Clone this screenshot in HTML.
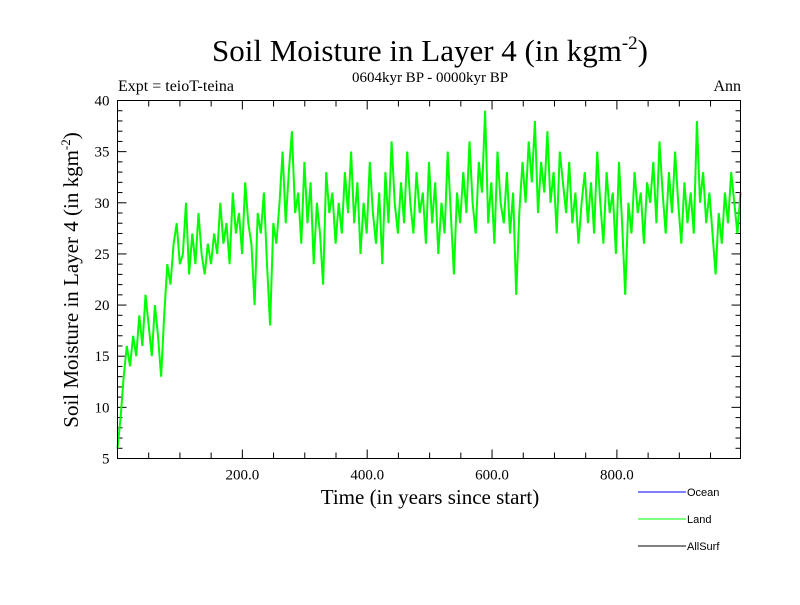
<!DOCTYPE html>
<html><head><meta charset="utf-8"><style>
body{margin:0;background:#fff}
svg text{font-family:"Liberation Serif",serif;fill:#000}
</style></head><body>
<svg width="800" height="600" xmlns="http://www.w3.org/2000/svg">
<rect width="800" height="600" fill="#fff"/>
<text x="430" y="61" font-size="31" text-anchor="middle">Soil Moisture in Layer 4 (in kgm<tspan dy="-12" font-size="19">-2</tspan><tspan dy="12">)</tspan></text>
<text x="430" y="82" font-size="15" text-anchor="middle">0604kyr BP - 0000kyr BP</text>
<text x="118" y="91" font-size="16">Expt = teioT-teina</text>
<text x="741" y="91" font-size="16" text-anchor="end">Ann</text>
<text transform="translate(78,280) rotate(-90)" font-size="21" text-anchor="middle">Soil Moisture in Layer 4 (in kgm<tspan dy="-8" font-size="13">-2</tspan><tspan dy="8">)</tspan></text>
<text x="430" y="504" font-size="21" text-anchor="middle">Time (in years since start)</text>
<g id="ticks"></g>
<polyline id="series" fill="none" stroke="#00ff00" stroke-width="2"/>
<rect x="117.5" y="100.5" width="623" height="358" fill="none" stroke="#000" stroke-width="1"/>
<g>
<line x1="638" y1="492" x2="686" y2="492" stroke="#0000ff"/>
<text x="687" y="496" style="font-family:'Liberation Sans',sans-serif" font-size="11">Ocean</text>
<line x1="638" y1="519" x2="686" y2="519" stroke="#00ff00"/>
<text x="687" y="523" style="font-family:'Liberation Sans',sans-serif" font-size="11">Land</text>
<line x1="638" y1="546" x2="686" y2="546" stroke="#000"/>
<text x="687" y="550" style="font-family:'Liberation Sans',sans-serif" font-size="11">AllSurf</text>
</g>
</svg>
<script>
const values=[6,9,13,16,14,17,15,19,16,21,18,15,20,17,13,19,
24,22,26,28,24,25,30,23,27,24,29,25,23,26,24,
27,25,30,26,28,24,31,27,29,25,32,28,26,20,29,27,31,24,18,28,
26,30,35,28,33,37,29,31,26,34,28,32,24,30,27,22,33,29,31,26,
30,27,33,29,35,28,32,25,30,27,34,29,26,31,24,33,28,36,30,27,
32,28,35,30,27,33,29,31,26,34,28,32,25,30,27,35,29,23,31,28,
33,29,36,30,27,34,31,39,28,32,26,35,30,28,33,27,31,21,29,34,
30,36,32,38,29,34,31,37,30,33,27,35,32,29,34,28,31,26,30,33,
28,32,27,35,30,26,33,29,31,25,34,28,21,30,27,33,29,31,26,32,
30,34,28,36,31,27,33,29,35,30,26,32,28,31,27,38,30,33,28,31,
27,23,29,26,31,28,33,30,27,31];
const xTicks=[200,400,600,800];
const xTickLabels=["200.0","400.0","600.0","800.0"];
const yTicks=[5,10,15,20,25,30,35,40];
const xMin=0,xMax=998,yMin=5,yMax=40;
const L=117.5,R=740.5,T=100.5,B=458.5;
const sx=v=>L+(v-xMin)/(xMax-xMin)*(R-L);
const sy=v=>B-(v-yMin)/(yMax-yMin)*(B-T);
const NS="http://www.w3.org/2000/svg";
const g=document.getElementById('ticks');
function mk(tag,a){const e=document.createElementNS(NS,tag);for(const k in a)e.setAttribute(k,a[k]);g.appendChild(e);return e;}
for(let v=50;v<xMax;v+=50){const major=v%200===0;const len=major?9:6;
const t1=mk('line',{x1:sx(v),x2:sx(v),y1:B,y2:B-len,stroke:'#000'});


const t2=mk('line',{x1:sx(v),x2:sx(v),y1:T,y2:T+len,stroke:'#000'});

}
xTicks.forEach((v,i)=>{const t=mk('text',{x:sx(v),y:B+21,'font-size':15,'text-anchor':'middle'});t.textContent=xTickLabels[i];

});
for(let v=yMin+1;v<yMax;v++){const len=v%5===0?9:5;
const t1=mk('line',{x1:L,x2:L+len,y1:sy(v),y2:sy(v),stroke:'#000'});


const t2=mk('line',{x1:R,x2:R-len,y1:sy(v),y2:sy(v),stroke:'#000'});

}
yTicks.forEach(v=>{const t=mk('text',{x:L-8,y:sy(v)+5,'font-size':15,'text-anchor':'end'});t.textContent=v;

});
const step=(xMax-xMin)/(values.length-1);
document.getElementById('series').setAttribute('points',values.map((v,i)=>sx(xMin+i*step).toFixed(1)+','+sy(v).toFixed(1)).join(' '));
</script>
</body></html>
